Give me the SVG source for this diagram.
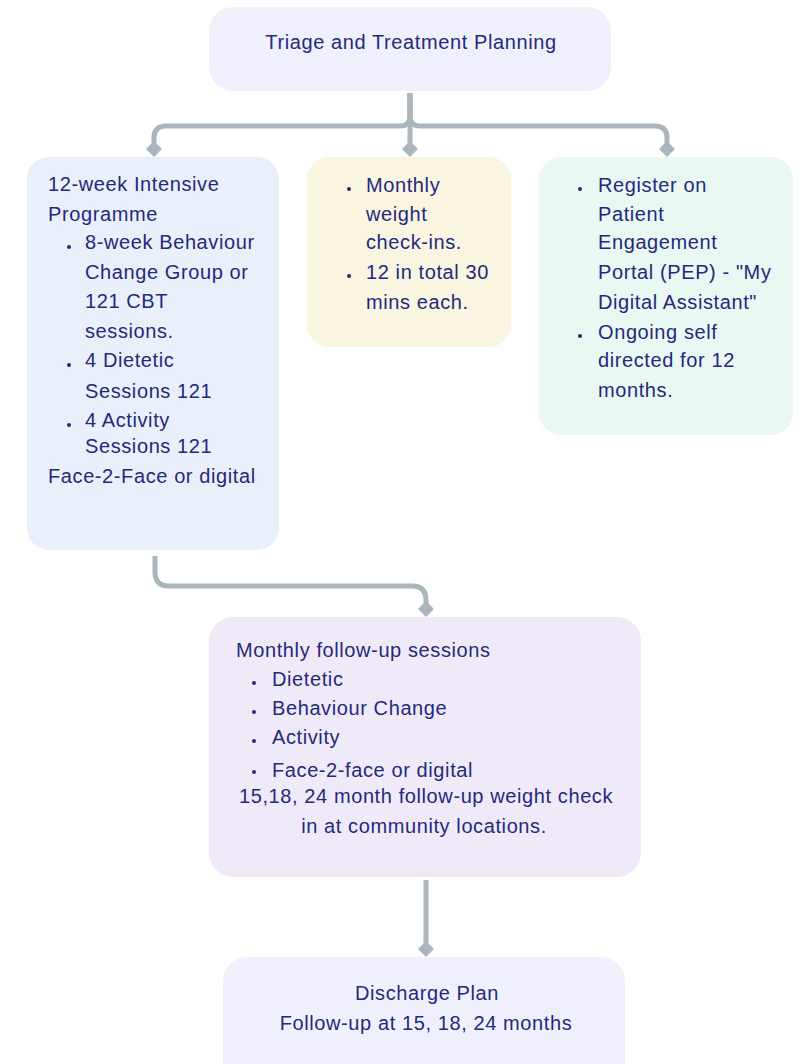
<svg xmlns="http://www.w3.org/2000/svg" width="803" height="1064" viewBox="0 0 803 1064">
  <style>
    .t { font-family: "Liberation Sans", Arial, sans-serif; font-size: 20px; letter-spacing: 0.6px; fill: #25297c; }
    .c { text-anchor: middle; }
    .dot { fill: #25297c; }
    .wire { fill: none; stroke: #aab5bc; stroke-width: 5; }
  </style>
  <defs>
    <!-- diamond head, centred on the line end, tip 8px ahead -->
    <marker id="tip" markerUnits="userSpaceOnUse" markerWidth="18" markerHeight="18" refX="9" refY="9" orient="auto" viewBox="0 0 18 18">
      <path d="M1,9 L9,1 L17,9 L9,17 Z" fill="#aab5bc"/>
    </marker>
  </defs>

  <rect width="803" height="1064" fill="#ffffff"/>

  <!-- connectors -->
  <g id="connectors">
    <path class="wire" d="M410,93 V116 Q410,126 400,126 H166 Q154,126 154,138 V149" marker-end="url(#tip)"/>
    <path class="wire" d="M410,93 V116 Q410,126 420,126 H655 Q667,126 667,138 V149" marker-end="url(#tip)"/>
    <path class="wire" d="M410,93 V149" marker-end="url(#tip)"/>
    <path class="wire" d="M155,556 V572 Q155,586 169,586 H412 Q426,586 426,600 V609" marker-end="url(#tip)"/>
    <path class="wire" d="M426,880 V949" marker-end="url(#tip)"/>
  </g>

  <!-- Triage -->
  <g id="triage">
    <rect x="209" y="7" width="402" height="84" rx="24" fill="#f0f0fd"/>
    <text class="t c" x="411" y="49">Triage and Treatment Planning</text>
  </g>

  <!-- 12-week programme -->
  <g id="intensive">
    <rect x="27" y="157" width="252" height="393" rx="22" fill="#e9f0f9"/>
    <text class="t" x="48" y="191">12-week Intensive</text>
    <text class="t" x="48" y="221">Programme</text>
    <circle class="dot" cx="69" cy="247" r="2"/>
    <text class="t" x="85" y="249">8-week Behaviour</text>
    <text class="t" x="85" y="279">Change Group or</text>
    <text class="t" x="85" y="308">121 CBT</text>
    <text class="t" x="85" y="338">sessions.</text>
    <circle class="dot" cx="69" cy="365" r="2"/>
    <text class="t" x="85" y="367">4 Dietetic</text>
    <text class="t" x="85" y="398">Sessions 121</text>
    <circle class="dot" cx="69" cy="425" r="2"/>
    <text class="t" x="85" y="427">4 Activity</text>
    <text class="t" x="85" y="453">Sessions 121</text>
    <text class="t" x="48" y="483">Face-2-Face or digital</text>
  </g>

  <!-- Weight check-ins -->
  <g id="checkins">
    <rect x="307" y="157" width="204" height="190" rx="22" fill="#f9f5e1"/>
    <circle class="dot" cx="349" cy="189" r="2"/>
    <text class="t" x="366" y="192">Monthly</text>
    <text class="t" x="366" y="221">weight</text>
    <text class="t" x="366" y="249">check-ins.</text>
    <circle class="dot" cx="349" cy="276" r="2"/>
    <text class="t" x="366" y="279">12 in total 30</text>
    <text class="t" x="366" y="309">mins each.</text>
  </g>

  <!-- Patient Engagement Portal -->
  <g id="portal">
    <rect x="539" y="157" width="254" height="278" rx="22" fill="#e9f8f3"/>
    <circle class="dot" cx="580" cy="189" r="2"/>
    <text class="t" x="598" y="192">Register on</text>
    <text class="t" x="598" y="221">Patient</text>
    <text class="t" x="598" y="249">Engagement</text>
    <text class="t" x="598" y="279">Portal (PEP) - "My</text>
    <text class="t" x="598" y="309">Digital Assistant"</text>
    <circle class="dot" cx="580" cy="336" r="2"/>
    <text class="t" x="598" y="339">Ongoing self</text>
    <text class="t" x="598" y="367">directed for 12</text>
    <text class="t" x="598" y="397">months.</text>
  </g>

  <!-- Monthly follow-up -->
  <g id="followup">
    <rect x="209" y="617" width="432" height="260" rx="24" fill="#f0eaf8"/>
    <text class="t" x="236" y="657">Monthly follow-up sessions</text>
    <circle class="dot" cx="254" cy="683" r="2"/>
    <text class="t" x="272" y="686">Dietetic</text>
    <circle class="dot" cx="254" cy="712" r="2"/>
    <text class="t" x="272" y="715">Behaviour Change</text>
    <circle class="dot" cx="254" cy="741" r="2"/>
    <text class="t" x="272" y="744">Activity</text>
    <circle class="dot" cx="254" cy="772" r="2"/>
    <text class="t" x="272" y="777">Face-2-face or digital</text>
    <text class="t c" x="426" y="803">15,18, 24 month follow-up weight check</text>
    <text class="t c" x="424" y="833">in at community locations.</text>
  </g>

  <!-- Discharge -->
  <g id="discharge">
    <rect x="223" y="957" width="402" height="130" rx="24" fill="#f0f0fd"/>
    <text class="t c" x="427" y="1000">Discharge Plan</text>
    <text class="t c" x="426" y="1030">Follow-up at 15, 18, 24 months</text>
  </g>
</svg>
